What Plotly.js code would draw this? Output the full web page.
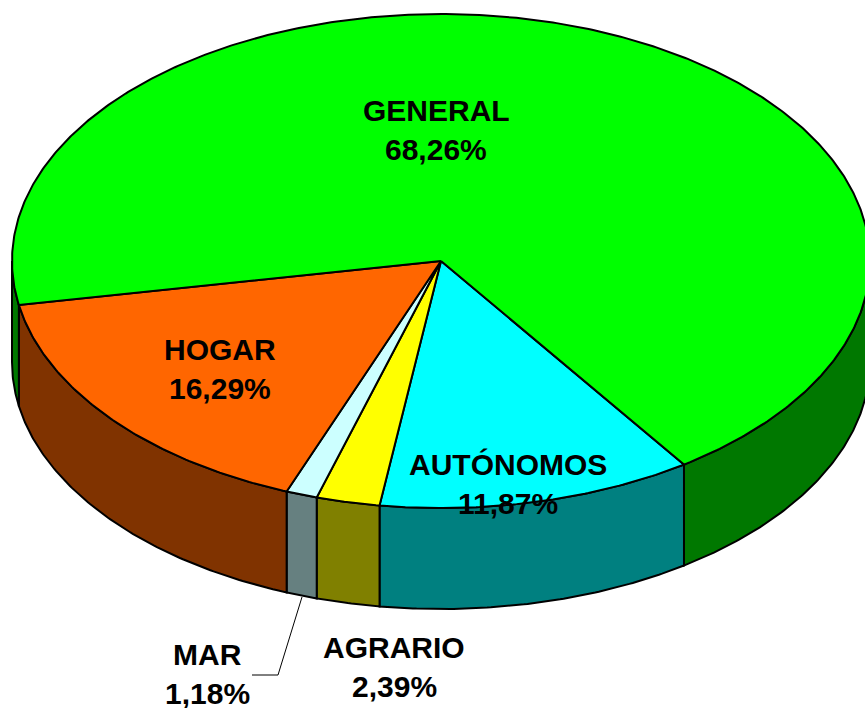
<!DOCTYPE html>
<html>
<head>
<meta charset="utf-8">
<script src="https://cdn.plot.ly/plotly-3.0.1.min.js"></script>
<style>html,body{margin:0;padding:0;background:#fff}#c{width:865px;height:708px}</style>
</head>
<body>
<div id="c"></div>
<script>
// Data, in drawing order going clockwise round the pie
var categories = ['AUTÓNOMOS', 'AGRARIO', 'MAR', 'HOGAR', 'GENERAL'];
var shares = [11.87, 2.39, 1.18, 16.29, 68.26];
var topColors = ['#00FFFF', '#FFFF00', '#CCFFFF', '#FF6600', '#00FF00'];
var sideColors = ['#008080', '#808000', '#668080', '#803300', '#007800'];
var labelX = [508, 394, 207, 220, 436];
var labelY = [464, 647, 654, 349, 110];
var lineGap = 39;

// Pie geometry
var cx = 441, cy = 261, rx = 429, ry = 247, depth = 101, startDeg = 55.5;
var total = shares.reduce(function (a, b) { return a + b; }, 0);

function px(t) { return cx + rx * Math.cos(t * Math.PI / 180); }
function py(t) { return cy + ry * Math.sin(t * Math.PI / 180); }
function arc(a, b) {
  var ts = [], n = Math.max(2, Math.ceil(Math.abs(b - a) / 0.5));
  for (var i = 0; i <= n; i++) ts.push(a + (b - a) * i / n);
  return ts;
}

var spans = [], acc = startDeg;
shares.forEach(function (s) {
  var sweep = s / total * 360;
  spans.push([acc, acc + sweep]);
  acc += sweep;
});

var traces = [];
// Side walls: only the front half (0..180 deg) of the rim shows
spans.forEach(function (sp, i) {
  [[0, 180], [360, 540]].forEach(function (w) {
    var a = Math.max(sp[0], w[0]), b = Math.min(sp[1], w[1]);
    if (b <= a) return;
    var top = arc(a, b), bot = arc(b, a);
    var xs = top.map(px).concat(bot.map(px));
    var ys = top.map(py).concat(bot.map(function (t) { return py(t) + depth; }));
    xs.push(xs[0]); ys.push(ys[0]);
    traces.push({
      type: 'scatter', mode: 'lines', x: xs, y: ys, fill: 'toself',
      fillcolor: sideColors[i], line: { color: '#000', width: 2 },
      hoverinfo: 'skip', showlegend: false
    });
  });
});
// Top faces
spans.forEach(function (sp, i) {
  var t = arc(sp[0], sp[1]);
  var xs = [cx].concat(t.map(px), [cx]);
  var ys = [cy].concat(t.map(py), [cy]);
  traces.push({
    type: 'scatter', mode: 'lines', x: xs, y: ys, fill: 'toself',
    fillcolor: topColors[i], line: { color: '#000', width: 2, shape: 'linear' },
    hoverinfo: 'skip', showlegend: false
  });
});
// Leader line for MAR
traces.push({
  type: 'scatter', mode: 'lines', x: [302, 278, 252], y: [597, 675, 675],
  line: { color: '#000', width: 1 }, hoverinfo: 'skip', showlegend: false
});

var annotations = [];
function addText(text, x, y) {
  annotations.push({
    text: text, x: x, y: y, xref: 'x', yref: 'y', showarrow: false,
    xanchor: 'center', yanchor: 'middle',
    font: { family: '"Liberation Sans", Arial, sans-serif', size: 30, color: '#000', weight: 700 }
  });
}
categories.forEach(function (c, i) {
  addText(c, labelX[i], labelY[i]);
  addText(shares[i].toFixed(2).replace('.', ',') + '%', labelX[i], labelY[i] + lineGap);
});

Plotly.newPlot('c', traces, {
  width: 865, height: 708,
  margin: { l: 0, r: 0, t: 0, b: 0 },
  paper_bgcolor: '#fff', plot_bgcolor: '#fff',
  xaxis: { range: [0, 865], visible: false, fixedrange: true },
  yaxis: { range: [708, 0], visible: false, fixedrange: true },
  showlegend: false,
  annotations: annotations
}, { displayModeBar: false, staticPlot: true });
</script>
</body>
</html>
